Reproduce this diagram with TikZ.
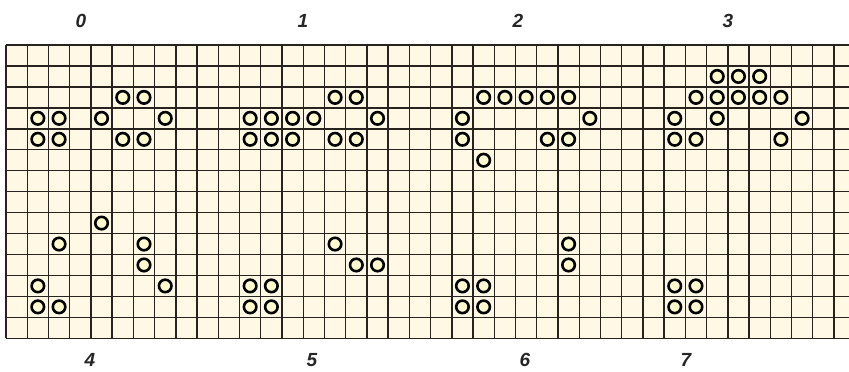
\documentclass[tikz,border=0pt]{standalone}
\usepackage{fontspec}
\setmainfont{Liberation Sans}
\definecolor{paper}{RGB}{254,248,228}
\definecolor{gridc}{RGB}{40,35,30}
\definecolor{ringfill}{RGB}{255,250,205}
\begin{document}
\begin{tikzpicture}[x=1pt,y=-1pt,
  ring/.style={circle,draw=black,line width=2.6pt,fill=ringfill,minimum size=12.5pt,inner sep=0pt},
  lbl/.style={font=\bfseries\itshape\fontsize{19}{19}\selectfont,text=black!85,inner sep=0pt},
  gridline/.style={draw=gridc,line width=1.4pt}]
\useasboundingbox (0,0) rectangle (849,372);
\def\dx{21.23}
\def\dy{20.95}
% background of the sheet
\fill[paper] (6,45) rectangle (849,338.3);
% grid
\foreach \k in {0,...,39} \draw[gridline] ({6+\dx*\k},45) -- ({6+\dx*\k},338.3);
\foreach \j in {0,...,14} \draw[gridline] (6,{45+\dy*\j}) -- (849,{45+\dy*\j});
% rings
\foreach \c/\r in {5/2,6/2,1/3,2/3,4/3,7/3,1/4,2/4,5/4,6/4,
  15/2,16/2,11/3,12/3,13/3,14/3,17/3,11/4,12/4,13/4,15/4,16/4,
  22/2,23/2,24/2,25/2,26/2,21/3,27/3,21/4,25/4,26/4,22/5,
  33/1,34/1,35/1,32/2,33/2,34/2,35/2,36/2,31/3,33/3,37/3,31/4,32/4,36/4,
  4/8,2/9,6/9,6/10,1/11,7/11,1/12,2/12,
  15/9,16/10,17/10,11/11,12/11,11/12,12/12,
  26/9,26/10,21/11,22/11,21/12,22/12,
  31/11,32/11,31/12,32/12}
  \node[ring] (o\c-\r) at ({6+\dx*(\c+0.5)},{45+\dy*(\r+0.5)}) {};
% labels
\node[lbl] (l0) at (81,21) {0};
\node[lbl] (l1) at (303,21) {1};
\node[lbl] (l2) at (518,21) {2};
\node[lbl] (l3) at (728,21) {3};
\node[lbl] (l4) at (90,360) {4};
\node[lbl] (l5) at (312,360) {5};
\node[lbl] (l6) at (525,360) {6};
\node[lbl] (l7) at (686,360) {7};
\end{tikzpicture}
\end{document}
